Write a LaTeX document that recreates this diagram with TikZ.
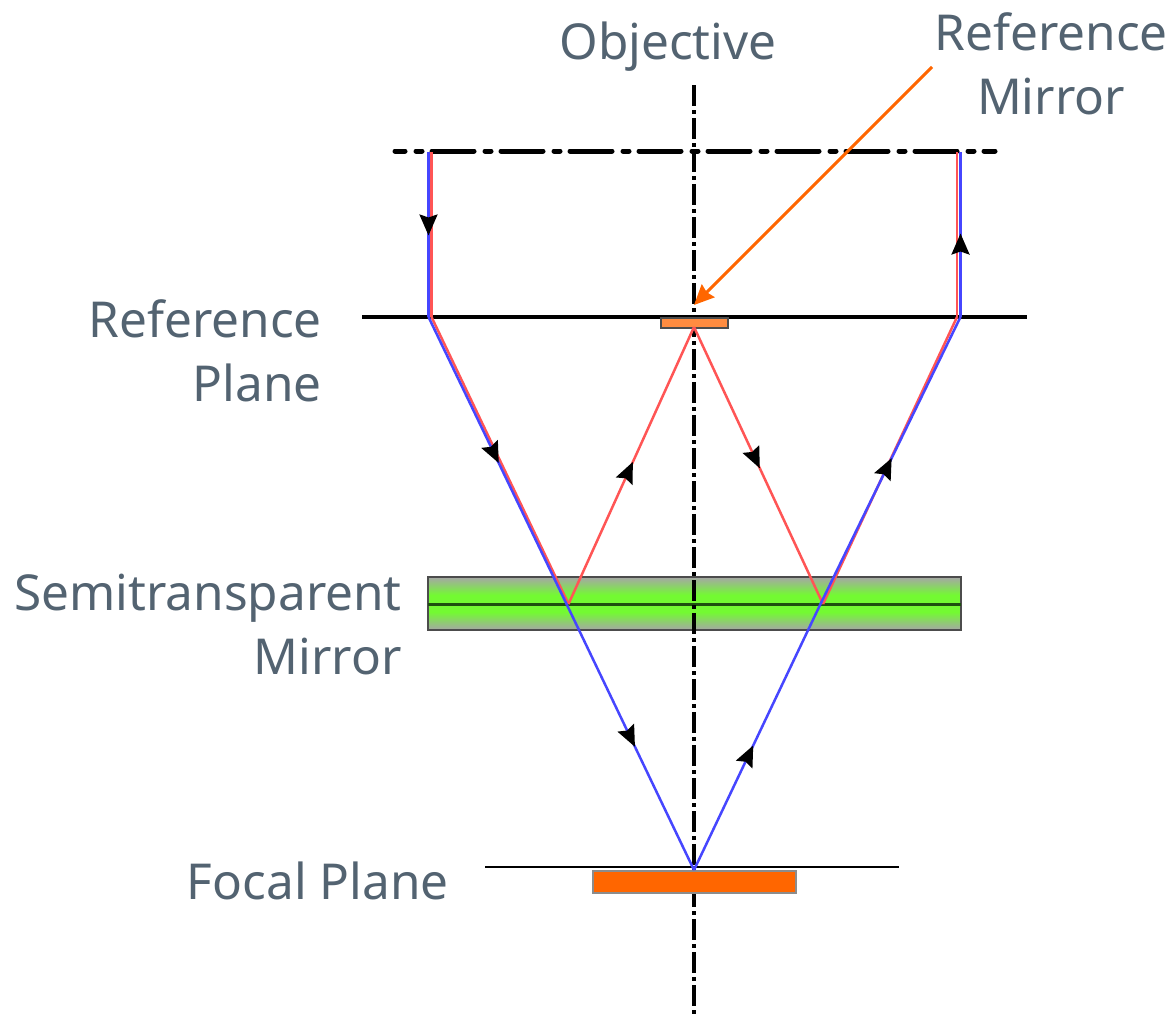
\documentclass[tikz,border=0pt]{standalone}
\usepackage{fontspec}
\setmainfont{Noto Sans}
\usetikzlibrary{arrows.meta,decorations.markings}
\definecolor{labelgray}{RGB}{83,99,113}
\definecolor{rayred}{RGB}{255,85,85}
\definecolor{rayblue}{RGB}{70,70,255}
\definecolor{armorange}{RGB}{255,102,0}
\definecolor{mirrorgreen}{RGB}{115,250,50}
\definecolor{linegreen}{RGB}{30,80,15}
\pgfdeclareverticalshading{mirrorshade}{100bp}{
  color(0bp)=(black!35); color(25bp)=(black!35); color(42bp)=(mirrorgreen);
  color(58bp)=(mirrorgreen); color(75bp)=(black!35); color(100bp)=(black!35)}
\tikzset{
  txt/.style={font=\fontsize{49.5}{64}\selectfont,text=labelgray,inner sep=0pt,align=#1},
  txt/.default=center,
  axisline/.style={black,line width=3.5pt,dash pattern=on 21pt off 4pt on 4pt off 4pt},
  planeline/.style={black,line width=4.5pt},
  ray/.style={line width=2.5pt,line join=round},
  tipat/.style={postaction={decorate,decoration={markings,
    mark=at position #1 with {\arrow[black]{Stealth[length=21pt,width=18pt,inset=3pt]}}}}},
}
\begin{document}
\begin{tikzpicture}[x=1pt,y=-1pt]
  \useasboundingbox (0,0) rectangle (1174,1015);
  % points
  \coordinate (axtop) at (694,85);
  \coordinate (axbot) at (694,1015);
  \coordinate (topl) at (395,151);
  \coordinate (topr) at (995,151);
  \coordinate (refl) at (362,317);
  \coordinate (refr) at (1027,317);
  \coordinate (focl) at (485,867);
  \coordinate (focr) at (899,867);
  \coordinate (bsl) at (428,604);
  \coordinate (bsr) at (961,604);
  \coordinate (a1) at (428.5,152);
  \coordinate (a2) at (428.5,317);
  \coordinate (a3) at (567,605);
  \coordinate (a4) at (694,870);
  \coordinate (a5) at (820,605);
  \coordinate (a6) at (960.5,317);
  \coordinate (a7) at (960.5,152);
  \coordinate (b1) at (431.5,152);
  \coordinate (b2) at (431.5,317);
  \coordinate (b3) at (568.5,604);
  \coordinate (b4) at (694,327);
  \coordinate (b5) at (823,604);
  \coordinate (b6) at (957,317);
  \coordinate (b7) at (957,152);
  \coordinate (armfrom) at (932,67);
  \coordinate (armto) at (694,305);

  % plate and detector
  \node[draw=black!70,line width=2pt,shading=mirrorshade,minimum width=533pt,minimum height=53pt,
        inner sep=0pt] (plate) at (694.5,603.5) {};
  \node[draw=black!45,line width=1.5pt,fill=armorange,minimum width=203pt,minimum height=22pt,
        inner sep=0pt] (sensor) at (694.5,882) {};
  \draw[linegreen,line width=3pt] (bsl) -- (bsr);

  % axis and planes
  \draw[axisline] (axtop) -- (694,870);
  \draw[axisline,dash phase=8pt] (694,894) -- (axbot);
  \draw[planeline,line width=5pt,dash pattern=on 42pt off 11pt on 6pt off 10pt,dash phase=32pt,line cap=round] (topl) -- (topr);
  \draw[planeline] (refl) -- (refr);
  \draw[black,line width=2.2pt] (focl) -- (focr);
  \node[draw=black!70,line width=2pt,fill=armorange!75!white,minimum width=67pt,minimum height=10pt,
        inner sep=0pt] (refmirror) at (694.5,323) {};

  % rays
  \draw[ray,rayred] (b1) -- (b2);
  \draw[ray,rayred] (b2) -- (b3);
  \draw[ray,rayred,tipat=0.513] (b3) -- (b4);
  \draw[ray,rayred,tipat=0.51] (b4) -- (b5);
  \draw[ray,rayred] (b5) -- (b6);
  \draw[ray,rayred] (b6) -- (b7);
  \draw[ray,rayblue,tipat=0.506] (a1) -- (a2);
  \draw[ray,rayblue,tipat=0.507] (a2) -- (a3);
  \draw[ray,rayblue,tipat=0.535] (a3) -- (a4);
  \draw[ray,rayblue,tipat=0.47] (a4) -- (a5);
  \draw[ray,rayblue,tipat=0.51] (a5) -- (a6);
  \draw[ray,rayblue,tipat=0.506] (a6) -- (a7);

  % labels
  \node[txt] (objective) at (668,47) {Objective};
  \node[txt] (reftxt) at (1051,64) {Reference\\Mirror};
  \node[txt=right,anchor=east] (plane) at (322,351) {Reference\\Plane};
  \node[txt=right,anchor=east] (semi) at (402,624) {Semitransparent\\Mirror};
  \node[txt=right,anchor=east] (focal) at (449,881) {Focal Plane};

  \draw[armorange,line width=3pt,-{Stealth[length=20pt,width=18pt,inset=2pt]}] (armfrom) -- (armto);
\end{tikzpicture}
\end{document}
